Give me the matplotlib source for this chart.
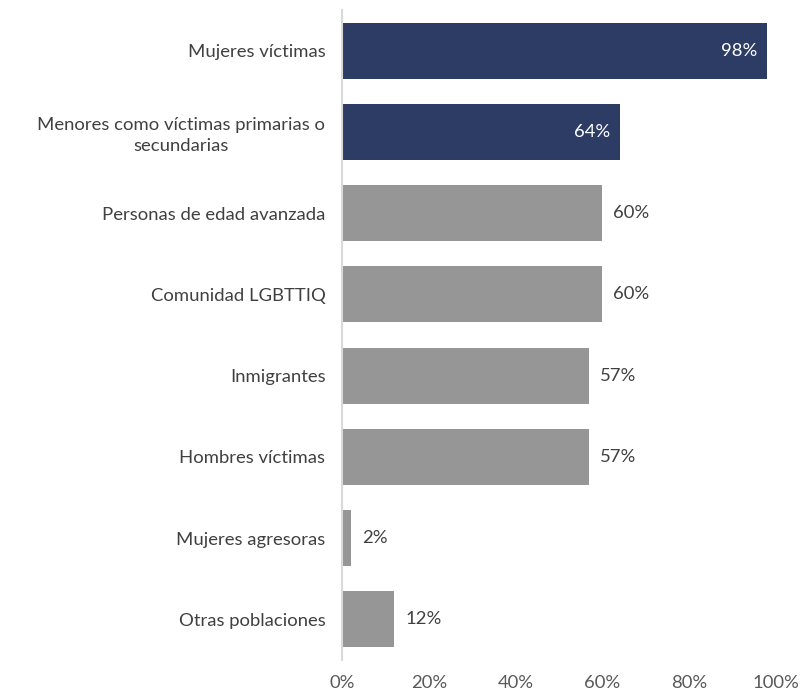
import matplotlib.pyplot as plt

categories = ["Mujeres víctimas", "Menores como víctimas primarias o\nsecundarias",
              "Personas de edad avanzada", "Comunidad LGBTTIQ", "Inmigrantes",
              "Hombres víctimas", "Mujeres agresoras", "Otras poblaciones"]
values = [98, 64, 60, 60, 57, 57, 2, 12]
highlight = [True, True, False, False, False, False, False, False]
xticks = [0, 20, 40, 60, 80, 100]

plt.rcParams['font.family'] = ['Lato', 'DejaVu Sans']

fig = plt.figure(figsize=(8.03, 6.96), dpi=100)
ax = fig.add_axes([0.426, 0.0517, 0.54, 0.9339])

dark = "#2C3C64"
grey = "#969696"
colors = [dark if h else grey for h in highlight]
ypos = list(range(len(categories)))
ax.barh(ypos, values, height=0.69, color=colors)

fs = 13.3
for y, v, h in zip(ypos, values, highlight):
    if h:
        ax.annotate(f"{v}%", (v, y), xytext=(-7, 0), textcoords="offset points",
                    ha="right", va="center", color="white", fontsize=fs)
    else:
        ax.annotate(f"{v}%", (v, y), xytext=(8, 0), textcoords="offset points",
                    ha="left", va="center", color="#404040", fontsize=fs)

ax.set_xlim(0, 100)
ax.set_ylim(7.5, -0.5)
ax.set_yticks(ypos)
ax.set_yticklabels(categories, fontsize=fs, color="#404040", ha="right",
                   multialignment="center", linespacing=1.35)
ax.set_xticks(xticks)
ax.set_xticklabels([f"{t}%" for t in xticks], fontsize=fs, color="#595959")
ax.tick_params(axis="both", length=0)
ax.tick_params(axis="y", pad=12)
ax.tick_params(axis="x", pad=11)
for s in ["top", "right", "bottom"]:
    ax.spines[s].set_visible(False)
ax.spines["left"].set_color("#D9D9D9")
ax.spines["left"].set_linewidth(1.5)

fig.savefig("out.png", dpi=100)
